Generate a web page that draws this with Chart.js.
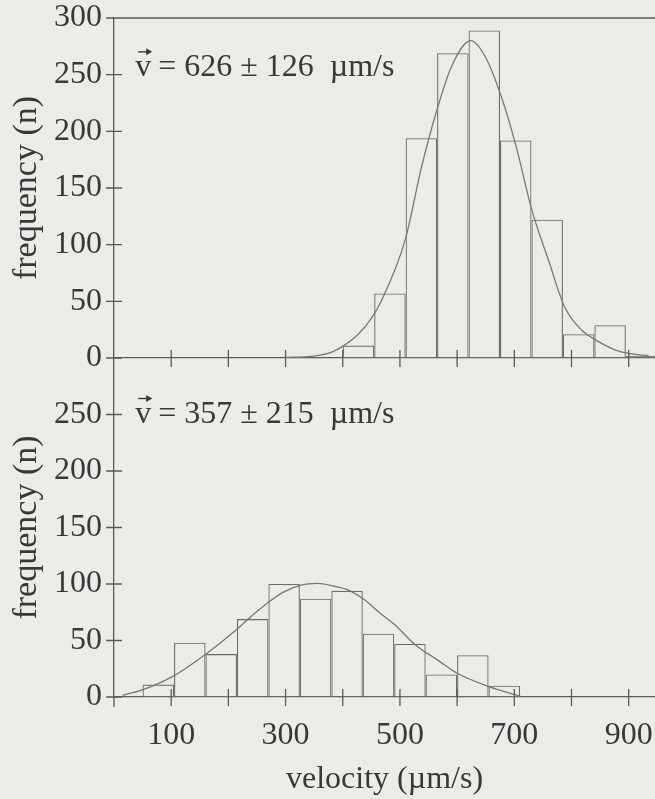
<!DOCTYPE html>
<html>
<head>
<meta charset="utf-8">
<script src="https://cdn.jsdelivr.net/npm/chart.js@4.4.0/dist/chart.umd.min.js"></script>
<style>
  html, body { margin: 0; padding: 0; background: #ebebe7; }
  #wrap { position: relative; width: 655px; height: 799px; overflow: hidden; }
  .box { position: absolute; left: 0; width: 655px; }
  #topBox { top: 0; height: 380px; }
  #botBox { top: 340px; height: 459px; }
</style>
</head>
<body>
<div id="wrap">
  <div class="box" id="botBox"><canvas id="botChart"></canvas></div>
  <div class="box" id="topBox"><canvas id="topChart"></canvas></div>
</div>
<script>
// --- values ---
// upper histogram (bins 55 um/s wide, starting at 400)
const topBinCenters = [427.5, 482.5, 537.5, 592.5, 647.5, 702.5, 757.5, 812.5, 867.5, 922.5];
const topCounts     = [11, 57, 194, 269, 289, 192, 122, 21, 29, 2];
// fitted curve, upper panel
const topFitV = [300, 345, 365, 380, 399, 427, 450, 468, 509, 538, 563, 590, 624, 649, 677, 702, 731, 760, 788, 819, 842, 877, 900, 935];
const topFitN = [0.5, 1.5, 3, 5, 10, 21, 35, 51, 104, 169, 216, 257, 280, 266, 231, 189, 130, 86, 45, 24, 16, 7, 4, 2];

// lower histogram (bins 55 um/s wide, starting at 50)
const botBinCenters = [77.5, 132.5, 187.5, 242.5, 297.5, 352.5, 407.5, 462.5, 517.5, 572.5, 627.5, 682.5];
const botCounts     = [11, 48, 38, 69, 100, 87, 94, 56, 47, 20, 37, 10];
// fitted curve, lower panel
const botFitV = [15, 48, 102, 158, 213, 239, 268, 297, 327, 356, 385, 408, 438, 466, 491, 525, 568, 600, 657, 699, 711];
const botFitN = [1.5, 6, 18, 37, 59, 71, 83, 93, 99, 100.5, 98, 95, 86, 74, 64, 47, 32, 21, 9, 2.4, 0.6];

const topMean = '= 626 \u00b1 126  \u00b5m/s';
const botMean = '= 357 \u00b1 215  \u00b5m/s';
const xTitle = 'velocity (\u00b5m/s)';
const yTitle = 'frequency (n)';

const X_MAX = 946;
const FONT = 'Liberation Serif, Times New Roman, serif';
const TEXT = '#383838';
const AXIS = '#5a5a5a';
const BAR = '#6a6a6a';
const CURVE = '#777777';

// crossing tick marks, top frame line, mean label
const frame = {
  id: 'frame',
  afterDraw(chart, args, opts) {
    const { ctx, chartArea: a } = chart;
    const x = chart.scales.x, y = chart.scales.y;
    ctx.save();
    ctx.strokeStyle = AXIS;
    ctx.lineWidth = 1.3;
    ctx.beginPath();
    x.ticks.forEach(t => {
      if (t.value <= 0) return;
      const px = x.getPixelForValue(t.value);
      ctx.moveTo(px, a.bottom - 8);
      ctx.lineTo(px, a.bottom + 9);
    });
    y.ticks.forEach(t => {
      if (opts.skipY !== undefined && t.value === opts.skipY) return;
      const py = y.getPixelForValue(t.value);
      ctx.moveTo(a.left - 8, py);
      ctx.lineTo(a.left + 8, py);
    });
    if (opts.topLine) {
      ctx.moveTo(a.left, a.top);
      ctx.lineTo(a.right, a.top);
    }
    if (opts.extendY) {
      ctx.moveTo(a.left, a.bottom);
      ctx.lineTo(a.left, a.bottom + opts.extendY);
    }
    ctx.stroke();

    // "v-arrow = mean +- sd um/s"
    const bx = x.getPixelForValue(opts.labelAt[0]);
    const by = y.getPixelForValue(opts.labelAt[1]);
    ctx.font = '32px ' + FONT;
    ctx.fillStyle = TEXT;
    ctx.textBaseline = 'middle';
    ctx.textAlign = 'left';
    ctx.fillText('v', bx, by);
    const vw = ctx.measureText('v').width;
    ctx.fillText(opts.label, bx + vw + 7, by);
    // arrow over the v
    const ay = by - 16;
    ctx.strokeStyle = TEXT;
    ctx.lineWidth = 1.4;
    ctx.beginPath();
    ctx.moveTo(bx + 3, ay);
    ctx.lineTo(bx + vw - 1, ay);
    ctx.stroke();
    ctx.beginPath();
    ctx.moveTo(bx + vw + 1, ay);
    ctx.lineTo(bx + vw - 5, ay - 3.5);
    ctx.lineTo(bx + vw - 5, ay + 3.5);
    ctx.closePath();
    ctx.fill();
    ctx.restore();
  }
};

function pts(xs, ys) {
  return xs.map((v, i) => ({ x: v, y: ys[i] }));
}

// no extra label overhang padding, so the plot box sits where we put it
function noPad(s) {
  s.paddingTop = 0;
  s.paddingBottom = 0;
  s.paddingLeft = 0;
  s.paddingRight = 0;
}

function makePanel(canvasId, centers, counts, fitV, fitN, cfg) {
  return new Chart(document.getElementById(canvasId), {
    type: 'bar',
    data: {
      datasets: [
        {
          type: 'line',
          data: pts(fitV, fitN),
          borderColor: CURVE,
          borderWidth: 1.3,
          pointRadius: 0,
          cubicInterpolationMode: 'monotone',
          order: 0
        },
        {
          type: 'bar',
          data: pts(centers, counts),
          backgroundColor: 'rgba(0,0,0,0)',
          borderColor: BAR,
          borderWidth: 1.1,
          borderSkipped: false,
          inflateAmount: 0,
          barPercentage: 1,
          categoryPercentage: 1,
          order: 1
        }
      ]
    },
    options: {
      responsive: true,
      maintainAspectRatio: false,
      animation: false,
      layout: { padding: { top: 18, right: 0, bottom: 0, left: 0 } },
      plugins: {
        legend: { display: false },
        tooltip: { enabled: false },
        frame: cfg.frame
      },
      scales: {
        x: {
          type: 'linear',
          offset: false,
          min: 0,
          max: X_MAX,
          grid: { display: false, drawTicks: false },
          border: { display: true, color: AXIS, width: 1.3 },
          ticks: {
            display: cfg.xLabels,
            stepSize: 100,
            includeBounds: false,
            autoSkip: false,
            maxRotation: 0,
            padding: 19,
            color: TEXT,
            font: { family: FONT, size: 32 },
            callback: v => (v % 200 === 100 ? v : '')
          },
          title: {
            display: cfg.xLabels,
            text: xTitle,
            color: TEXT,
            font: { family: FONT, size: 32 },
            padding: 0
          },
          afterFit: s => { s.height = cfg.xHeight; noPad(s); }
        },
        y: {
          min: 0,
          max: 300,
          grid: { display: false, drawTicks: false },
          border: { display: true, color: AXIS, width: 1.3 },
          ticks: {
            stepSize: 50,
            padding: 12,
            color: TEXT,
            font: { family: FONT, size: 32 },
            callback: v => (cfg.hideTop && v === 300 ? '' : v)
          },
          title: {
            display: true,
            text: yTitle,
            color: TEXT,
            font: { family: FONT, size: 34 },
            padding: { top: 7, bottom: 0 }
          },
          afterFit: s => { s.width = 114; noPad(s); }
        }
      }
    },
    plugins: [frame]
  });
}

makePanel('botChart', botBinCenters, botCounts, botFitV, botFitN, {
  xLabels: true,
  xHeight: 102,
  hideTop: true,
  frame: { skipY: 300, extendY: 10, labelAt: [37, 250], label: botMean }
});

makePanel('topChart', topBinCenters, topCounts, topFitV, topFitN, {
  xLabels: false,
  xHeight: 22,
  hideTop: false,
  frame: { topLine: true, labelAt: [37, 256], label: topMean }
});
</script>
</body>
</html>
